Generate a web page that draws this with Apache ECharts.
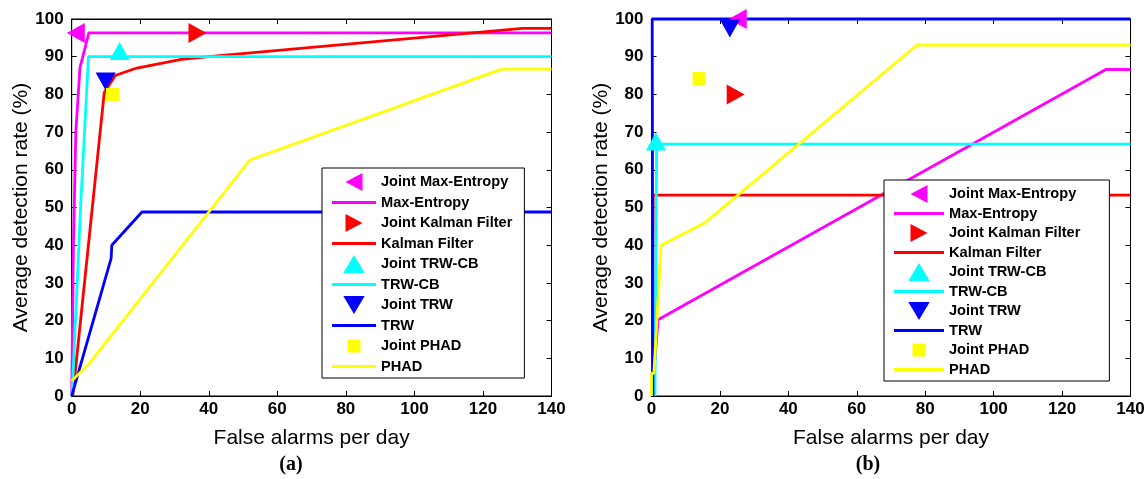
<!DOCTYPE html>
<html>
<head>
<meta charset="utf-8">
<script src="https://cdn.jsdelivr.net/npm/echarts@6/dist/echarts.min.js"></script>
<style>html,body{margin:0;padding:0;background:#fff}#c{width:1148px;height:479px}</style>
</head>
<body>
<div id="c"></div>
<script>
// ---- axis ticks ----
const xTicks = [0, 20, 40, 60, 80, 100, 120, 140];
const yTicks = [0, 10, 20, 30, 40, 50, 60, 70, 80, 90, 100];
const legendNames = ['Joint Max-Entropy', 'Max-Entropy', 'Joint Kalman Filter', 'Kalman Filter',
  'Joint TRW-CB', 'TRW-CB', 'Joint TRW', 'TRW', 'Joint PHAD', 'PHAD'];
const panelLabels = ['(a)', '(b)'];

// ---- panel (a) ----
const maxEntropyA = [[0, 0], [0.5, 40], [1.2, 70], [2.4, 87], [5, 96.3], [140, 96.3]];
const kalmanA = [[0.3, 0], [9.5, 80.5], [12.7, 85], [19, 87], [32, 89.3], [40, 90], [131.5, 97.5], [140, 97.5]];
const trwcbA = [[0, 0], [0.3, 4], [2.7, 52], [4.9, 90], [140, 90]];
const trwA = [[0, 0], [11.5, 36.5], [11.7, 40], [20.5, 48.8], [140, 48.8]];
const phadA = [[0, 4], [5, 8.5], [52, 62.6], [125.5, 86.7], [140, 86.7]];
const jointMaxEntropyA = [[1.2, 96.3]];
const jointKalmanA = [[36.7, 96.3]];
const jointTrwcbA = [[14, 91.5]];
const jointTrwA = [[9.9, 83.4]];
const jointPhadA = [[11.9, 80]];

// ---- panel (b) ----
const maxEntropyB = [[0.3, 0], [0.7, 6], [1.9, 20.2], [132.8, 86.6], [140, 86.6]];
const kalmanB = [[0.3, 0], [0.5, 53.3], [140, 53.3]];
const trwcbB = [[1.0, 0], [1.5, 66.8], [140, 66.8]];
const trwB = [[0.4, 0], [0.4, 6], [0.2, 100], [140, 100]];
const phadB = [[0, 0], [0, 6], [0.7, 6], [2.8, 40], [15.4, 45.8], [77.6, 93.1], [140, 93.1]];
const jointMaxEntropyB = [[25.2, 100]];
const jointKalmanB = [[24.6, 80]];
const jointTrwcbB = [[1.3, 67.5]];
const jointTrwB = [[22.9, 97.5]];
const jointPhadB = [[13.9, 84.2]];

const colors = { me: '#ff00ff', kf: '#ff0000', cb: '#00ffff', trw: '#0000ff', phad: '#ffff00' };
const sym = {
  left: 'path://M0,10L18,0L18,20Z',
  right: 'path://M18,10L0,0L0,20Z',
  up: 'path://M10,0L20,18L0,18Z',
  down: 'path://M0,0L20,0L10,18Z'
};
const symSize = { left: [18, 20], right: [18, 20], up: [20, 18], down: [20, 18] };

const FONT = 'Liberation Sans, Arial, Helvetica, sans-serif';
const grids = [
  { left: 71.7, top: 19, width: 479.8, height: 377 },
  { left: 651.5, top: 19, width: 479, height: 377 }
];

function xAx(g, pos) {
  const bottom = pos === 'bottom';
  return {
    type: 'value', gridIndex: g, position: pos, min: 0, max: 140, interval: 20,
    axisLine: { show: true, onZero: false, lineStyle: { color: '#000', width: 1 } },
    axisTick: { show: true, inside: true, length: 5, lineStyle: { color: '#000' } },
    axisLabel: { show: bottom, color: '#000', fontFamily: FONT, fontWeight: 'bold', fontSize: 17, margin: 5 },
    splitLine: { show: false },
    name: bottom ? 'False alarms per day' : '', nameLocation: 'middle', nameGap: 32,
    nameTextStyle: { color: '#000', fontFamily: FONT, fontSize: 21 }
  };
}
function yAx(g, pos) {
  const left = pos === 'left';
  return {
    type: 'value', gridIndex: g, position: pos, min: 0, max: 100, interval: 10,
    axisLine: { show: true, onZero: false, lineStyle: { color: '#000', width: 1 } },
    axisTick: { show: true, inside: true, length: 5, lineStyle: { color: '#000' } },
    axisLabel: { show: left, color: '#000', fontFamily: FONT, fontWeight: 'bold', fontSize: 17, margin: 8 },
    splitLine: { show: false },
    name: left ? 'Average detection rate (%)' : '', nameLocation: 'middle', nameGap: 36,
    nameTextStyle: { color: '#000', fontFamily: FONT, fontSize: 21 }
  };
}

function lineS(name, data, color, ai) {
  return { type: 'line', name: name, data: data, xAxisIndex: ai, yAxisIndex: ai,
    showSymbol: false, symbol: 'none', lineStyle: { color: color, width: 2.8 }, itemStyle: { color: color },
    clip: false, z: 3 };
}
function markS(name, data, color, ai, shape) {
  const isSq = shape === 'square';
  return { type: 'scatter', name: name, data: data, xAxisIndex: ai, yAxisIndex: ai,
    symbol: isSq ? 'rect' : sym[shape], symbolSize: isSq ? 13 : symSize[shape], symbolKeepAspect: false,
    itemStyle: { color: color, opacity: 1 }, clip: false, z: 3 };
}

function panelSeries(ai, d) {
  return [
    markS(legendNames[0], d.jme, colors.me, ai, 'left'),
    lineS(legendNames[1], d.me, colors.me, ai),
    markS(legendNames[2], d.jkf, colors.kf, ai, 'right'),
    lineS(legendNames[3], d.kf, colors.kf, ai),
    markS(legendNames[4], d.jcb, colors.cb, ai, 'up'),
    lineS(legendNames[5], d.cb, colors.cb, ai),
    markS(legendNames[6], d.jtrw, colors.trw, ai, 'down'),
    lineS(legendNames[7], d.trw, colors.trw, ai),
    markS(legendNames[8], d.jph, colors.phad, ai, 'square'),
    lineS(legendNames[9], d.ph, colors.phad, ai)
  ];
}

function legendIcons(lineW) {
  const line = 'path://M0,0H' + lineW + 'V3H0Z';
  return [
    'path://M0,9L17,0L17,18Z', line,
    'path://M17,9L0,0L0,18Z', line,
    'path://M9.5,0L19,16L0,16Z', line,
    'path://M0,0L19,0L9.5,16Z', line,
    'path://M0,0M18,18M2.5,2.5H15.5V15.5H2.5Z', line
  ];
}
function makeLegend(left, top, lineW, gap, padding) {
  const icons = legendIcons(lineW);
  return {
    orient: 'vertical', left: left, top: top, selectedMode: false,
    itemWidth: lineW, itemHeight: 18, itemGap: gap,
    backgroundColor: '#fff', borderColor: '#000', borderWidth: 1, borderRadius: 0,
    padding: padding, symbolKeepAspect: true,
    textStyle: { color: '#000', fontFamily: FONT, fontWeight: 'bold', fontSize: 14.6, padding: [0, 0, 0, 0] },
    data: legendNames.map((n, i) => ({ name: n, icon: icons[i] }))
  };
}

const option = {
  animation: false,
  backgroundColor: '#fff',
  grid: grids.map(g => Object.assign({ show: true, borderColor: '#000', borderWidth: 1, backgroundColor: 'transparent' }, g)),
  xAxis: [xAx(0, 'bottom'), xAx(1, 'bottom'), xAx(0, 'top'), xAx(1, 'top')],
  yAxis: [yAx(0, 'left'), yAx(1, 'left'), yAx(0, 'right'), yAx(1, 'right')],
  legend: [
    makeLegend(322, 168, 44, 4, [5, 12, 4, 10]),
    makeLegend(884, 180, 50, 3, [5, 29, 4, 10])
  ],
  series: [].concat(
    panelSeries(0, { jme: jointMaxEntropyA, me: maxEntropyA, jkf: jointKalmanA, kf: kalmanA, jcb: jointTrwcbA, cb: trwcbA, jtrw: jointTrwA, trw: trwA, jph: jointPhadA, ph: phadA }),
    panelSeries(1, { jme: jointMaxEntropyB, me: maxEntropyB, jkf: jointKalmanB, kf: kalmanB, jcb: jointTrwcbB, cb: trwcbB, jtrw: jointTrwB, trw: trwB, jph: jointPhadB, ph: phadB })
  ),
  graphic: [
    { type: 'text', x: 291, y: 465, style: { text: panelLabels[0], font: 'bold 20px "Liberation Serif", "Times New Roman", serif', fill: '#000', align: 'center', verticalAlign: 'middle' } },
    { type: 'text', x: 868, y: 465, style: { text: panelLabels[1], font: 'bold 20px "Liberation Serif", "Times New Roman", serif', fill: '#000', align: 'center', verticalAlign: 'middle' } }
  ]
};

const chart = echarts.init(document.getElementById('c'), null, { renderer: 'canvas' });
chart.setOption(option);
</script>
</body>
</html>
